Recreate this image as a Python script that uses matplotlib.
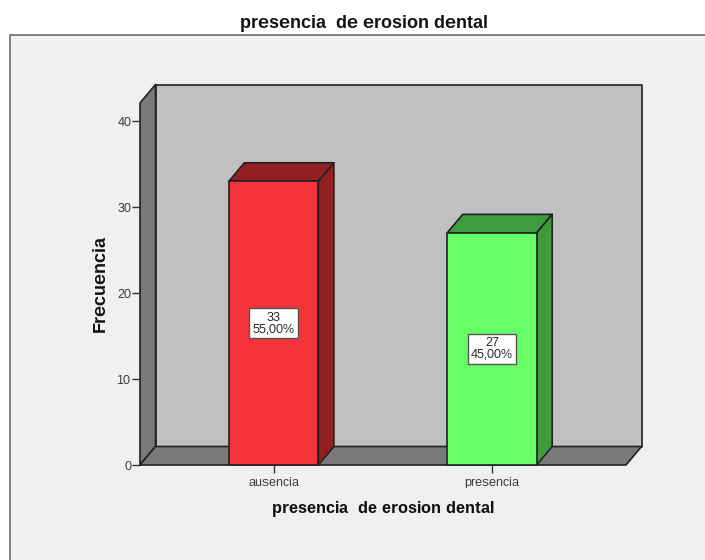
import matplotlib
matplotlib.use("Agg")
import matplotlib.pyplot as plt
from matplotlib.patches import Polygon, Rectangle

plt.rcParams['font.family'] = ['Liberation Sans', 'DejaVu Sans']
plt.rcParams['text.hinting'] = 'native'
plt.rcParams['text.hinting_factor'] = 1

categories = ["ausencia", "presencia"]
counts = [33, 27]
percents = ["55,00%", "45,00%"]
yticks = [0, 10, 20, 30, 40]
title = "presencia  de erosion dental"
ylabel = "Frecuencia"

W, H = 705, 560
fig = plt.figure(figsize=(W / 100, H / 100), dpi=100, facecolor="white")

# Grey chart panel behind the plot
fig.add_artist(Rectangle((10 / W, -0.05), 1.0, 1.05 - 35 / H, transform=fig.transFigure,
                         facecolor="#f0f0f0", edgecolor="#6e6e6e", linewidth=1.2, zorder=-1))

ax = fig.add_axes([140 / W, (H - 465) / H, 486 / W, 362 / H])
ax.set_xlim(-0.612, 1.614)
ax.set_ylim(0, 42.1)
ax.patch.set_visible(False)
for s in ax.spines.values():
    s.set_visible(False)

x0, x1 = ax.get_xlim()
y0, y1 = ax.get_ylim()
dx, dy = 0.071, 2.15  # oblique depth of the 3D box
edge = "#222222"
lw = 1.2
walls = "#7a7a7a"


def poly(pts, fc):
    ax.add_patch(Polygon(pts, closed=True, facecolor=fc, edgecolor=edge,
                         linewidth=lw, clip_on=False, joinstyle="round"))


# Back wall, left wall and floor
poly([(x0 + dx, y0 + dy), (x1 + dx, y0 + dy), (x1 + dx, y1 + dy), (x0 + dx, y1 + dy)], "#c0c0c0")
poly([(x0, y0), (x0 + dx, y0 + dy), (x0 + dx, y1 + dy), (x0, y1)], walls)
poly([(x0, y0), (x1, y0), (x1 + dx, y0 + dy), (x0 + dx, y0 + dy)], walls)

# Bars with top and side faces
width = 0.41
front = ["#f4333a", "#66ff66"]
shade = ["#931f23", "#3e9b3e"]
for i, v in enumerate(counts):
    l, r = i - width / 2, i + width / 2
    poly([(l, v), (l + dx, v + dy), (r + dx, v + dy), (r, v)], shade[i])
    poly([(r, 0), (r + dx, dy), (r + dx, v + dy), (r, v)], shade[i])
    poly([(l, 0), (r, 0), (r, v), (l, v)], front[i])
    ax.text(i, v / 2, f"{v}\n{percents[i]}", ha="center", va="center", fontsize=8.8,
            color="#222222", linespacing=1.1, zorder=5,
            bbox=dict(boxstyle="square,pad=0.28", facecolor="white",
                      edgecolor="#555555", linewidth=1.0))

ax.set_xticks(range(len(categories)), categories)
ax.set_yticks(yticks)
ax.tick_params(axis="x", length=5.8, width=1, color="#333333", labelsize=8.8,
               labelcolor="#333333", pad=3)
ax.tick_params(axis="y", length=5.8, width=1, color="#333333", labelsize=8.8,
               labelcolor="#333333", pad=0.5)

ax.set_xlabel(title, fontsize=12.5, fontweight="bold", labelpad=9.5, color="#111111")
fig.text(100 / W, 1 - 284 / H, ylabel, rotation=90, ha="center", va="center",
         fontsize=12.8, fontweight="bold", color="#111111")
fig.text(364 / W, 1 - 23 / H, title, ha="center", va="center",
         fontsize=12.8, fontweight="bold", color="#111111")

fig.savefig("out.png", dpi=100, facecolor=fig.get_facecolor())
